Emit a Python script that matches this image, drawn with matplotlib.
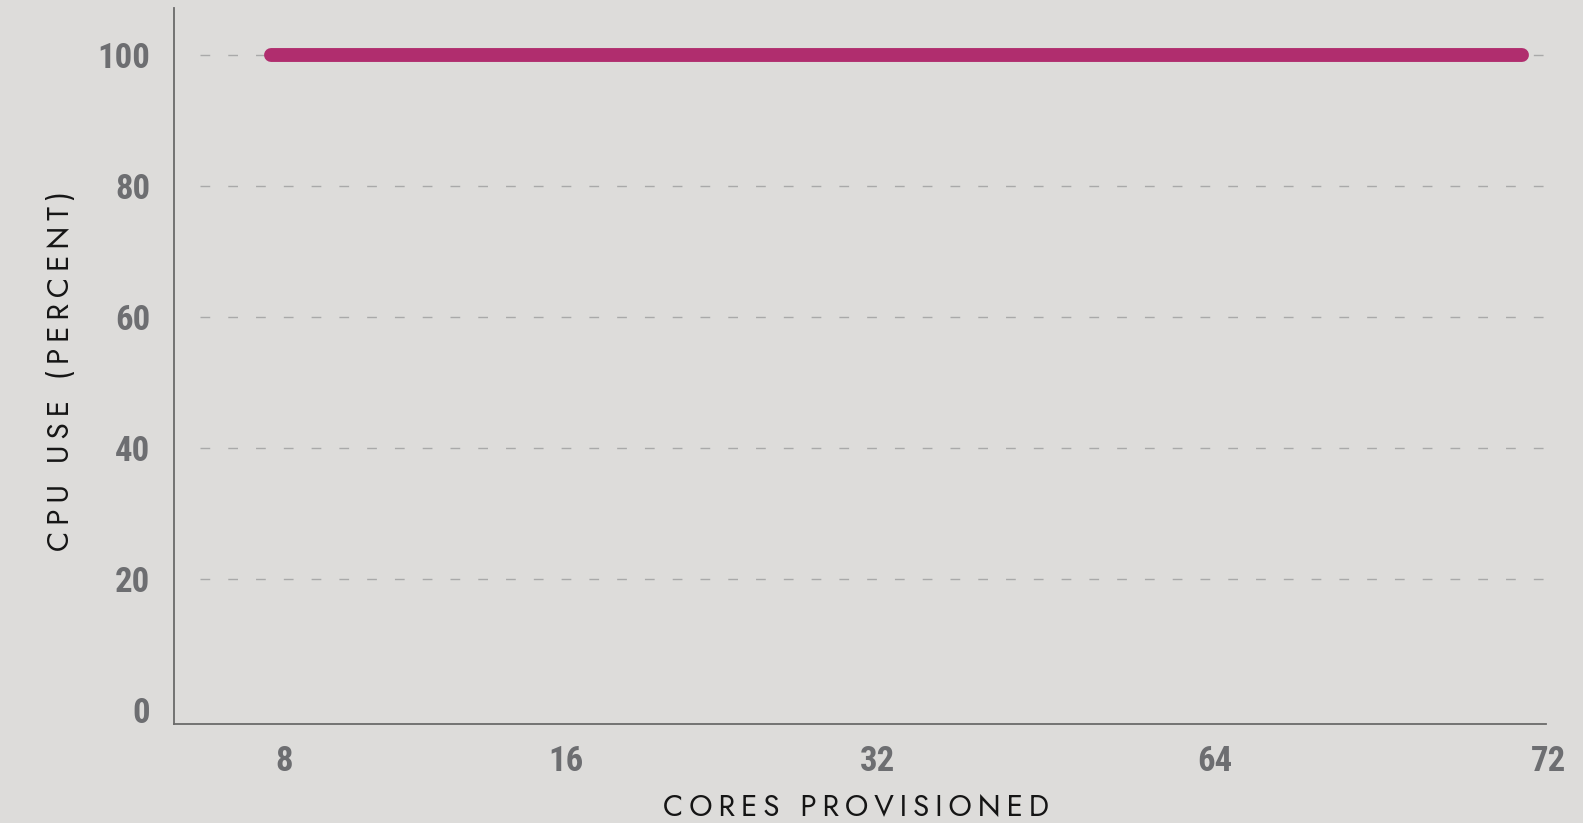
import matplotlib
matplotlib.use("Agg")
import matplotlib.pyplot as plt
from matplotlib import font_manager as fm

cores = ["8", "16", "32", "64", "72"]
cpu_use = [100, 100, 100, 100, 100]
y_ticks = [0, 20, 40, 60, 80, 100]

BG = "#dddcda"
LINE = "#b02d6e"
TICK = "#6d6e71"

names = {f.name for f in fm.fontManager.ttflist}
def pick(cands):
    for c in cands:
        if c in names:
            return c
    return "DejaVu Sans"

narrow = pick(["Roboto Condensed", "Archivo Narrow", "Barlow Semi Condensed",
               "Liberation Sans Narrow", "Roboto"])
light = pick(["Jost", "Nunito Sans", "Mulish", "Lato"])

W, H = 1583, 823
fig = plt.figure(figsize=(W/100, H/100), dpi=100, facecolor=BG)
ax = fig.add_axes([173.7/W, 1-724/H, (1563-173.7)/W, (724-8)/H])
ax.set_facecolor(BG)

x = list(range(len(cores)))
ax.plot(x, cpu_use, color=LINE, lw=10, solid_capstyle="round", zorder=3)

ax.set_xlim(-0.3127, 4.13)
ax.set_ylim(-2.17, 107.2)

for s in ["top", "right"]:
    ax.spines[s].set_visible(False)
for s in ["left", "bottom"]:
    ax.spines[s].set_color("#6a6a6a")
    ax.spines[s].set_linewidth(1.3)
ax.spines["bottom"].set_bounds(-0.3127, 4.075)

# dashed grid lines (none at 0)
for v in y_ticks[1:]:
    ax.plot([-0.229, 4.104], [v, v], color="#a9a9a9", lw=1,
            dashes=(7, 13), zorder=1)

label_shift = [0.040, -0.058, -0.061, 0.017, 0.085]
ax.set_xticks([xi + d for xi, d in zip(x, label_shift)])
ax.set_xticklabels(cores)
ax.set_yticks(y_ticks)
ax.set_yticklabels([str(v) for v in y_ticks])
ax.tick_params(length=0)
ax.tick_params(axis="x", pad=15)
ax.tick_params(axis="y", pad=17)
for lab in ax.get_xticklabels() + ax.get_yticklabels():
    lab.set_fontfamily(narrow)
    lab.set_fontweight("bold")
    lab.set_fontsize(25)
    lab.set_color(TICK)

sp = "\u200a\u200a"
def spaced(t):
    return sp.join(list(t))

ax.set_xlabel(spaced("CORES PROVISIONED"), family=[light, "DejaVu Sans"],
              fontweight="normal", fontsize=21.3, color="#151515", labelpad=11)
ax.set_ylabel(spaced("CPU USE (PERCENT)"), family=[light, "DejaVu Sans"],
              fontweight="normal", fontsize=21.3, color="#151515", labelpad=15)
ax.xaxis.label.set_x(0.491)
ax.yaxis.label.set_y(0.493)

fig.savefig("out.png", dpi=100, facecolor=BG)
